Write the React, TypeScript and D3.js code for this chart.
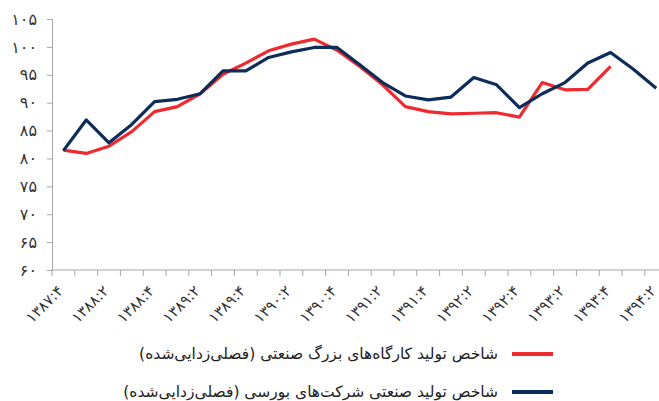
import React, { useEffect, useRef } from "react";
import * as d3 from "d3";

// quarters from 1387:4 to 1394:2
const quarters = [
  "۱۳۸۷:۴",
  "۱۳۸۸:۱", "۱۳۸۸:۲", "۱۳۸۸:۳", "۱۳۸۸:۴",
  "۱۳۸۹:۱", "۱۳۸۹:۲", "۱۳۸۹:۳", "۱۳۸۹:۴",
  "۱۳۹۰:۱", "۱۳۹۰:۲", "۱۳۹۰:۳", "۱۳۹۰:۴",
  "۱۳۹۱:۱", "۱۳۹۱:۲", "۱۳۹۱:۳", "۱۳۹۱:۴",
  "۱۳۹۲:۱", "۱۳۹۲:۲", "۱۳۹۲:۳", "۱۳۹۲:۴",
  "۱۳۹۳:۱", "۱۳۹۳:۲", "۱۳۹۳:۳", "۱۳۹۳:۴",
  "۱۳۹۴:۱", "۱۳۹۴:۲",
];

// large industrial workshops index (seasonally adjusted)
const workshops: (number | null)[] = [
  81.5, 80.9, 82.2, 84.8, 88.4, 89.3, 91.6, 95.1, 97.1, 99.3, 100.5, 101.4, 99.4,
  96.5, 93.2, 89.3, 88.4, 88.0, 88.1, 88.2, 87.4, 93.6, 92.3, 92.4, 96.5, null, null,
];

// listed companies industrial production index (seasonally adjusted)
const listed: (number | null)[] = [
  81.4, 86.9, 82.8, 86.1, 90.2, 90.6, 91.6, 95.7, 95.7, 98.1, 99.1, 99.9, 99.9,
  96.8, 93.6, 91.2, 90.5, 91.0, 94.5, 93.2, 89.1, 91.6, 93.6, 97.1, 99.0, 96.0, 92.6,
];

const yTicks = [60, 65, 70, 75, 80, 85, 90, 95, 100, 105];
const faDigits = "۰۱۲۳۴۵۶۷۸۹";
const toFa = (n: number) => String(n).replace(/\d/g, (d) => faDigits[+d]);

const legendItems = [
  { label: "شاخص تولید کارگاه‌های بزرگ صنعتی (فصلی‌زدایی‌شده)", color: "#ee2a2f" },
  { label: "شاخص تولید صنعتی شرکت‌های بورسی (فصلی‌زدایی‌شده)", color: "#0c2c5a" },
];

const W = 659, H = 401;
const FONT = "'DejaVu Sans', sans-serif";

export default function App() {
  const ref = useRef<SVGSVGElement>(null);

  useEffect(() => {
    const svg = d3.select(ref.current);
    svg.selectAll("*").remove();

    const left = 52, bandW = 22.8;
    const x = d3.scaleBand().domain(quarters).range([left, left + bandW * quarters.length]);
    const y = d3.scaleLinear().domain([60, 105]).range([270, 19]);
    const axisColor = "#a6a6a6";

    // y axis
    const gy = svg.append("g").attr("transform", `translate(${left},0)`)
      .call(d3.axisLeft(y).tickValues(yTicks).tickSize(5).tickFormat((d) => toFa(+d)));
    gy.select(".domain").attr("stroke", axisColor);
    gy.selectAll(".tick line").attr("stroke", axisColor);
    gy.selectAll(".tick text").attr("font-family", FONT).attr("font-size", 16)
      .attr("fill", "#333").attr("x", -15);

    // x axis: ticks between categories
    const gx = svg.append("g").attr("transform", `translate(0,270)`);
    gx.append("line").attr("x1", left).attr("x2", x.range()[1])
      .attr("stroke", axisColor);
    gx.selectAll("line.tk").data(d3.range(quarters.length + 1)).join("line")
      .attr("class", "tk")
      .attr("x1", (i) => left + i * x.bandwidth()).attr("x2", (i) => left + i * x.bandwidth())
      .attr("y1", 0).attr("y2", 6).attr("stroke", axisColor);
    gx.selectAll("text").data(quarters.filter((_, i) => i % 2 === 0)).join("text")
      .attr("transform", (d) => `translate(${x(d)! + x.bandwidth() / 2 - 3},${18}) rotate(-45)`)
      .attr("text-anchor", "end").attr("dy", "0.35em")
      .attr("font-family", FONT).attr("font-size", 15).attr("fill", "#333")
      .text((d) => d);

    const line = d3.line<number | null>()
      .defined((d) => d !== null)
      .x((_, i) => x(quarters[i])! + x.bandwidth() / 2)
      .y((d) => y(d as number));

    svg.append("path").datum(workshops).attr("d", line).attr("fill", "none")
      .attr("stroke", legendItems[0].color).attr("stroke-width", 3.2).attr("stroke-linejoin", "round");
    svg.append("path").datum(listed).attr("d", line).attr("fill", "none")
      .attr("stroke", legendItems[1].color).attr("stroke-width", 3.2).attr("stroke-linejoin", "round");

    // legend
    const lg = svg.append("g");
    legendItems.forEach((it, i) => {
      const ly = 354 + i * 38;
      lg.append("line").attr("x1", 512).attr("x2", 553).attr("y1", ly).attr("y2", ly)
        .attr("stroke", it.color).attr("stroke-width", 4);
      lg.append("text").attr("x", 498).attr("y", ly).attr("dy", "0.35em")
        .attr("direction", "rtl").attr("text-anchor", "start")
        .attr("font-family", FONT).attr("font-size", 15.5).attr("fill", "#222")
        .text(it.label);
    });
  }, []);

  return (
    <svg ref={ref} width={W} height={H}
      style={{ position: "absolute", left: 0, top: 0, background: "#fff" }} />
  );
}
